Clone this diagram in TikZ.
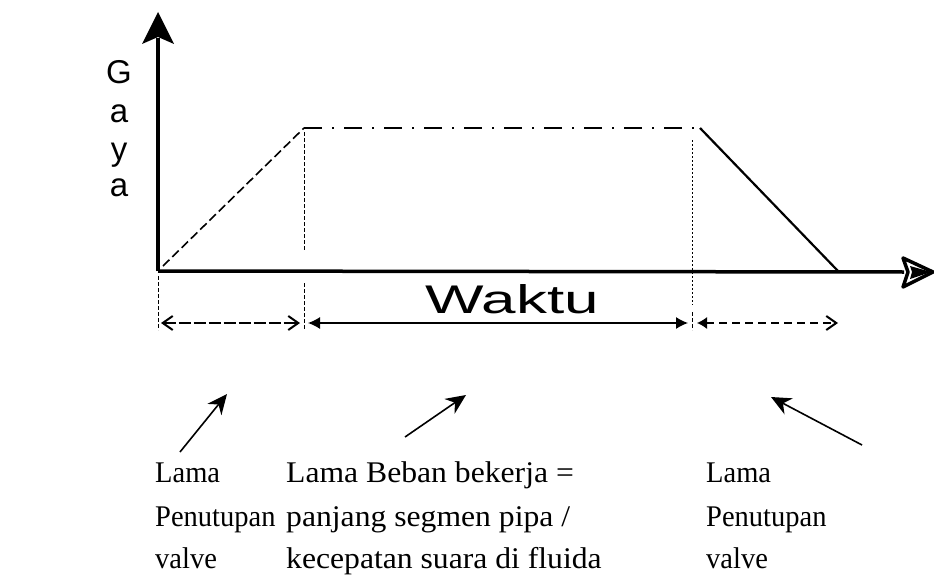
\documentclass[tikz,border=0pt]{standalone}
\usepackage{fontspec}
\setmainfont{Liberation Serif}
\newfontfamily\axisfont{Liberation Sans}
\usetikzlibrary{arrows.meta}
\begin{document}
\begin{tikzpicture}[x=1pt,y=-1pt,
  axisline/.style={line width=3.5pt},
  curve/.style={line width=1.6pt},
  guide/.style={line width=1pt,dash pattern=on 4pt off 2pt},
  dimline/.style={line width=1.3pt},
  pointer/.style={line width=1.6pt,-{Stealth[length=20pt,width=18pt]}},
  lbl/.style={anchor=base west,inner sep=0pt,font=\fontsize{30}{34}\selectfont},
  sidelbl/.style={lbl,xscale=0.95},
  midlbl/.style={lbl,xscale=1.055},
  axlbl/.style={anchor=base,inner sep=0pt,font=\axisfont\fontsize{33}{36}\selectfont}]
\useasboundingbox (0,0) rectangle (934,578);
% named points
\coordinate (O) at (158,271);
\coordinate (Ytop) at (158,12);
\coordinate (Xend) at (933,272);
\coordinate (A) at (163,266);
\coordinate (B) at (304,128);
\coordinate (C) at (700,128);
\coordinate (D) at (838,271);
% axes
\draw[axisline] (O) -- (158,38);
\fill (Ytop) -- (174,44) -- (158,37) -- (142,44) -- cycle;
\draw[axisline] (O) -- (904,272);
\draw[line width=3.5pt,line join=round] (Xend) -- (903,258) -- (908,272) -- (903,287) -- cycle;
\fill (931,272) -- (910,266) -- (912,272) -- (910,279) -- cycle;
% trapezoid
\draw[curve,dash pattern=on 9pt off 4pt] (A) -- (B);
\draw[curve,dash pattern=on 18pt off 10pt on 2pt off 10pt] (B) -- (C);
\draw[line width=2.2pt] (C) -- (D);
% guides
\draw[guide] (304,132) -- (304,250);
\draw[guide] (304,283) -- (304,330);
\draw[guide,dash pattern=on 2pt off 2pt] (692,140) -- (692,305);
\draw[guide] (692,312) -- (692,330);
\draw[guide] (158,276) -- (158,330);
% dimension arrows
\coordinate (L1) at (161,323); \coordinate (L2) at (300,323);
\coordinate (M1) at (308,323); \coordinate (M2) at (688,323);
\coordinate (R1) at (697,323); \coordinate (R2) at (838,323);
\draw[dimline,dash pattern=on 12pt off 3pt,{Straight Barb[length=10pt,width=14pt,line width=2pt]}-{Straight Barb[length=10pt,width=14pt,line width=2pt]}] (L1) -- (L2);
\draw[dimline,{Latex[length=12pt,width=12pt]}-{Latex[length=12pt,width=12pt]}] (M1) -- (M2);
\draw[dimline,dash pattern=on 8pt off 5pt,{Latex[length=10pt,width=12pt]}-{Straight Barb[length=10pt,width=14pt,line width=2pt]}] (R1) -- (R2);
% labels
\node[axlbl] (g1) at (119,83) {G};
\node[axlbl] (g2) at (119,122) {a};
\node[axlbl] (g3) at (119,160) {y};
\node[axlbl] (g4) at (119,196) {a};
\node[anchor=base west,inner sep=0pt,font=\axisfont\fontsize{40}{44}\selectfont,xscale=1.55] (w) at (425,313) {Waktu};
\node[sidelbl] (t1a) at (155,482) {Lama};
\node[sidelbl] (t1b) at (155,526) {Penutupan};
\node[sidelbl] (t1c) at (155,568) {valve};
\node[midlbl] (t2a) at (286,482) {Lama Beban bekerja =};
\node[midlbl] (t2b) at (286,526) {panjang segmen pipa /};
\node[midlbl] (t2c) at (286,568) {kecepatan suara di fluida};
\node[sidelbl] (t3a) at (706,482) {Lama};
\node[sidelbl] (t3b) at (706,526) {Penutupan};
\node[sidelbl] (t3c) at (706,568) {valve};
% pointers
\coordinate (p1s) at (180,452); \coordinate (p1e) at (227,394);
\coordinate (p2s) at (405,437); \coordinate (p2e) at (466,395);
\coordinate (p3s) at (862,445); \coordinate (p3e) at (771,397);
\draw[pointer] (p1s) -- (p1e);
\draw[pointer] (p2s) -- (p2e);
\draw[pointer] (p3s) -- (p3e);
\end{tikzpicture}
\end{document}
